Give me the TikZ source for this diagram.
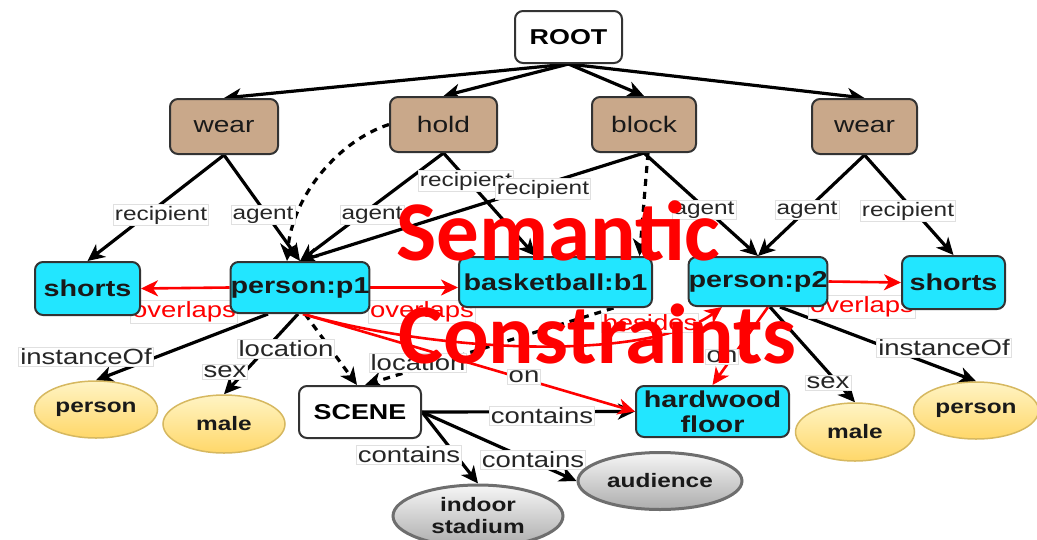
\documentclass[tikz,border=0pt]{standalone}
\usepackage{fontspec}
\setmainfont{Liberation Sans}[FakeStretch=1.25]
\newfontfamily\bigredfont{Carlito}
\usetikzlibrary{arrows.meta,shapes.geometric}
\pgfdeclarelayer{bg}
\pgfsetlayers{bg,main}
\definecolor{tanc}{RGB}{201,168,138}
\definecolor{cyanc}{RGB}{34,230,255}
\definecolor{yelt}{RGB}{255,244,196}
\definecolor{yelb}{RGB}{255,215,105}
\definecolor{yeld}{RGB}{214,184,96}
\definecolor{grayt}{RGB}{246,246,246}
\definecolor{grayb}{RGB}{172,172,172}
\definecolor{grayd}{RGB}{110,110,110}
\newcommand{\myfs}[2]{\fontsize{#1}{#2}\selectfont}
\tikzset{
  boxbase/.style={rounded corners=8pt, draw=black!80, line width=2pt, inner sep=0pt, align=center},
  rootbox/.style={boxbase, fill=white, font=\bfseries\myfs{21.5}{23}},
  tanbox/.style={boxbase, fill=tanc, font=\myfs{22.5}{24}, text=black!90},
  cyanbox/.style={boxbase, fill=cyanc, font=\bfseries\myfs{23}{25}, text=black!90},
  yelell/.style={ellipse, draw=yeld, line width=1.5pt, top color=yelt, bottom color=yelb, inner sep=0pt, font=\bfseries\myfs{19.5}{20}, text=black!90},
  grayell/.style={ellipse, draw=grayd, line width=3pt, top color=grayt, bottom color=grayb, inner sep=0pt, align=center, font=\bfseries\myfs{19.5}{22}, text=black!90},
  lbl/.style={fill=white, draw=black!12, line width=0.8pt, inner sep=1.5pt, text=black!85, font=\myfs{19.5}{20}},
  lblb/.style={lbl, font=\myfs{22}{23}},
  rlbl/.style={lblb, text=red},
  arr/.style={-{Stealth[length=17pt,width=16pt,inset=5pt]}, line width=3.2pt, draw=black},
  rarr/.style={arr, draw=red, line width=2.6pt},
  dsh/.style={dash pattern=on 7pt off 6pt},
  redtitle/.style={text=red, font=\bigredfont\bfseries\myfs{85}{90}, inner sep=0pt, anchor=base west}
}
\begin{document}
\begin{tikzpicture}[x=1pt,y=-1pt]
\useasboundingbox (0,0) rectangle (1037,539);
% nodes
\node[rootbox, minimum width=107pt, minimum height=52pt] (root) at (568.5,37) {ROOT};
\node[tanbox, minimum width=108pt, minimum height=55pt] (wear1) at (224,126.5) {wear};
\node[tanbox, minimum width=107pt, minimum height=55pt] (hold) at (443.5,124.5) {hold};
\node[tanbox, minimum width=104pt, minimum height=55pt] (block) at (644,124.5) {block};
\node[tanbox, minimum width=105pt, minimum height=55pt] (wear2) at (864.5,126.5) {wear};
\node[cyanbox, minimum width=105pt, minimum height=53pt] (shorts1) at (87.5,288.5) {shorts};
\node[cyanbox, minimum width=136pt, minimum height=51pt] (p1) at (300,287.5) {person:p1};
\node[cyanbox, minimum width=193pt, minimum height=50pt] (bb) at (555.5,282) {basketball:b1};
\node[cyanbox, minimum width=138pt, minimum height=49pt] (p2) at (758,281.5) {person:p2};
\node[cyanbox, minimum width=103pt, minimum height=53pt] (shorts2) at (953.5,282.5) {shorts};
\node[cyanbox, minimum width=153pt, minimum height=51pt] (hw) at (712.5,411.5) {hardwood\\floor};
\node[rootbox, minimum width=122pt, minimum height=52pt] (scene) at (360,412) {SCENE};
\node[yelell, minimum width=123pt, minimum height=57pt] (person1) at (96,409.5) {person};
\node[yelell, minimum width=122pt, minimum height=58pt] (male1) at (224,424) {male};
\node[yelell, minimum width=119pt, minimum height=58pt] (male2) at (855,432) {male};
\node[yelell, minimum width=125pt, minimum height=57pt] (person2) at (976,410.5) {person};
\node[grayell, minimum width=164pt, minimum height=57pt] (audience) at (660,481) {audience};
\node[grayell, minimum width=170pt, minimum height=62pt] (indoor) at (478,516) {indoor\\stadium};
\coordinate (p1bot) at ([xshift=3pt]p1.south);
\begin{pgfonlayer}{bg}
% root edges
\draw[arr] (root.south) -- (wear1.north);
\draw[arr] (root.south) -- (hold.north);
\draw[arr] (root.south) -- (block.north);
\draw[arr] (root.south) -- (wear2.north);
% predicate edges
\draw[arr] (wear1.south) -- (shorts1.north);
\draw[arr] (wear1.south) -- (p1.north);
\draw[arr] (hold.south) -- (p1.north);
\draw[arr] (hold.south) -- ([xshift=-20pt]bb.north);
\draw[arr] (block.south) -- (p1.north);
\draw[arr, dsh] ([xshift=4pt]block.south) -- ([xshift=84pt]bb.north);
\draw[arr] (block.south) -- (p2.north);
\draw[arr] (wear2.south) -- (p2.north);
\draw[arr] (wear2.south) -- (shorts2.north);
\draw[arr, dsh] (hold.west) .. controls (340,140) and (292,195) .. ([xshift=-13pt]p1.north);
% attribute edges
\draw[arr] ([xshift=-32pt]p1.south) -- (person1.north);
\draw[arr] ([xshift=-2pt]p1.south) -- (male1.north);
\draw[arr, dsh] ([xshift=5pt]p1.south) -- ([xshift=-3pt]scene.north);
\draw[arr, dsh] ([xshift=58pt]bb.south) -- ([xshift=5pt]scene.north);
\draw[arr] (scene.east) -- (hw.west);
\draw[arr] (scene.east) -- (indoor.north);
\draw[arr] (scene.east) -- (audience.west);
\draw[arr] ([xshift=12pt]p2.south) -- (male2.north);
\draw[arr] ([xshift=22pt]p2.south) -- (person2.north);
% red constraint edges
\draw[rarr] (p1.west) -- (shorts1.east);
\draw[rarr] (p1.east) -- (bb.west |- p1.east);
\draw[rarr] (p2.east) -- (shorts2.west);
\draw[rarr] (p1bot) .. controls (450,355) and (650,360) .. ([xshift=-36pt]p2.south);
\draw[rarr] (p1bot) -- (hw.west);
\draw[rarr] ([xshift=10pt]p2.south) -- (hw.north);
% labels
\node[lbl] (l1) at (161,215) {recipient};
\node[lbl] (l2) at (263,215) {agent};
\node[lbl] (l3) at (372,215) {agent};
\node[lbl] (l4) at (466,181) {recipient};
\node[lbl] (l5) at (543,189) {recipient};
\node[lbl] (l6) at (704,210) {agent};
\node[lbl] (l7) at (807,210) {agent};
\node[lbl] (l8) at (908,211) {recipient};
\node[rlbl] (l9) at (184,312) {overlaps};
\node[rlbl] (l10) at (422,312) {overlaps};
\node[rlbl] (l11) at (862,307) {overlaps};
\node[rlbl] (l12) at (650,323) {besides};
\node[lblb] (l13) at (86,357) {instanceOf};
\node[lblb] (l14) at (225,372) {sex};
\node[lblb] (l15) at (286,349) {location};
\node[lblb] (l16) at (418,363) {location};
\node[lblb] (l17) at (524,377) {on};
\node[lblb] (l18) at (722,357) {on};
\node[lblb] (l19) at (828,383) {sex};
\node[lblb] (l20) at (944,348) {instanceOf};
\node[lblb] (l21) at (542,416) {contains};
\node[lblb] (l22) at (409,455) {contains};
\node[lblb] (l23) at (533,460) {contains};
\end{pgfonlayer}
% overlay title
\node[redtitle] (t1) at (396,260) {Semantic};
\node[redtitle] (t2) at (398,363) {Constraints};
\end{tikzpicture}
\end{document}
